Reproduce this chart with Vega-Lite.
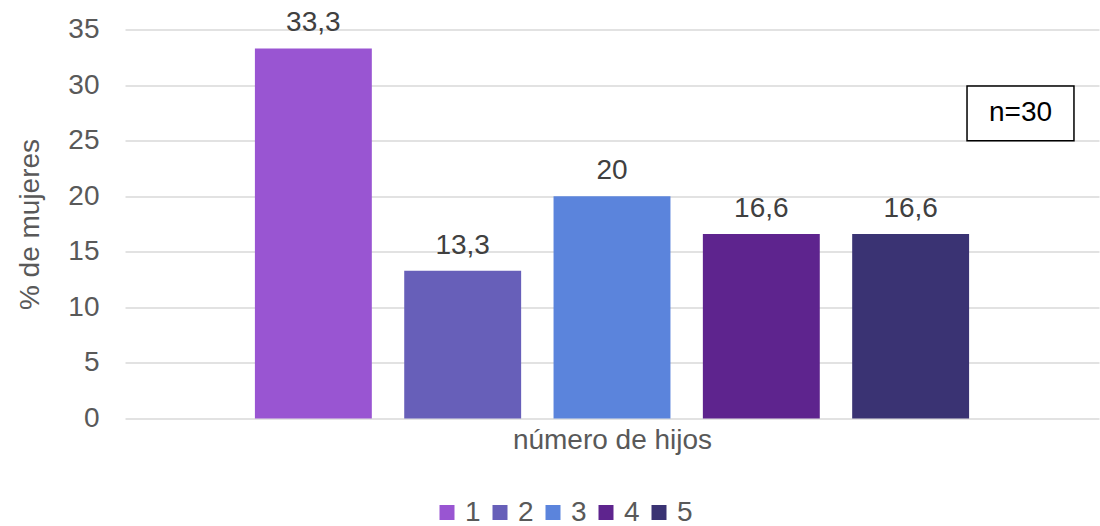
{
  "$schema": "https://vega.github.io/schema/vega-lite/v6.json",
  "width": 974,
  "height": 389,
  "autosize": "none",
  "padding": {"left": 125, "top": 29.5, "right": 1, "bottom": 107.5},
  "background": "white",
  "config": {
    "view": {"stroke": null},
    "font": "Liberation Sans"
  },
  "layer": [
    {
      "data": {
        "values": [
          {"hijos": "1", "pct": 33.3, "label": "33,3"},
          {"hijos": "2", "pct": 13.3, "label": "13,3"},
          {"hijos": "3", "pct": 20, "label": "20"},
          {"hijos": "4", "pct": 16.6, "label": "16,6"},
          {"hijos": "5", "pct": 16.6, "label": "16,6"}
        ]
      },
      "encoding": {
        "x": {
          "field": "hijos",
          "type": "nominal",
          "scale": {"domain": ["1", "2", "3", "4", "5"], "paddingInner": 0.217, "paddingOuter": 0.87},
          "axis": {
            "title": "número de hijos",
            "labels": false,
            "ticks": false,
            "domain": false,
            "titleFontSize": 28,
            "titleFontWeight": "normal",
            "titleColor": "#595959",
            "titlePadding": 8
          }
        },
        "y": {
          "field": "pct",
          "type": "quantitative",
          "scale": {"domain": [0, 35], "nice": false},
          "axis": {
            "title": "% de mujeres",
            "values": [0, 5, 10, 15, 20, 25, 30, 35],
            "domain": false,
            "ticks": false,
            "labelFontSize": 28,
            "labelColor": "#595959",
            "labelPadding": 26,
            "gridColor": "#d9d9d9",
            "gridWidth": 1.5,
            "titleFontSize": 28,
            "titleFontWeight": "normal",
            "titleColor": "#595959",
            "titlePadding": 23
          }
        }
      },
      "layer": [
        {
          "mark": {"type": "bar"},
          "encoding": {
            "color": {
              "field": "hijos",
              "type": "nominal",
              "scale": {
                "domain": ["1", "2", "3", "4", "5"],
                "range": ["#9955D2", "#675FB9", "#5B84DC", "#5E248E", "#3A3373"]
              },
              "legend": {
                "title": null,
                "orient": "none",
                "legendX": 308,
                "legendY": 469,
                "direction": "horizontal",
                "symbolType": "square",
                "symbolSize": 225,
                "symbolStrokeWidth": 0,
                "labelFontSize": 28,
                "labelColor": "#595959",
                "labelOffset": 4,
                "columnPadding": 5
              }
            }
          }
        },
        {
          "mark": {"type": "text", "dy": -17, "baseline": "alphabetic", "fontSize": 28, "color": "#404040"},
          "encoding": {"text": {"field": "label"}}
        }
      ]
    },
    {
      "data": {"values": [{"note": "n=30"}]},
      "layer": [
        {
          "mark": {"type": "rect", "fill": "white", "stroke": "black", "strokeWidth": 1.5},
          "encoding": {
            "x": {"datum": 0.8645, "type": "quantitative", "scale": {"domain": [0, 1]}, "axis": null},
            "x2": {"datum": 0.9743},
            "y": {"datum": 29.92, "type": "quantitative"},
            "y2": {"datum": 25.0}
          }
        },
        {
          "mark": {"type": "text", "fontSize": 28, "color": "black", "baseline": "middle"},
          "encoding": {
            "x": {"datum": 0.9194, "type": "quantitative", "scale": {"domain": [0, 1]}, "axis": null},
            "y": {"datum": 27.46, "type": "quantitative"},
            "text": {"field": "note"}
          }
        }
      ]
    }
  ],
  "resolve": {"scale": {"x": "independent"}}
}
